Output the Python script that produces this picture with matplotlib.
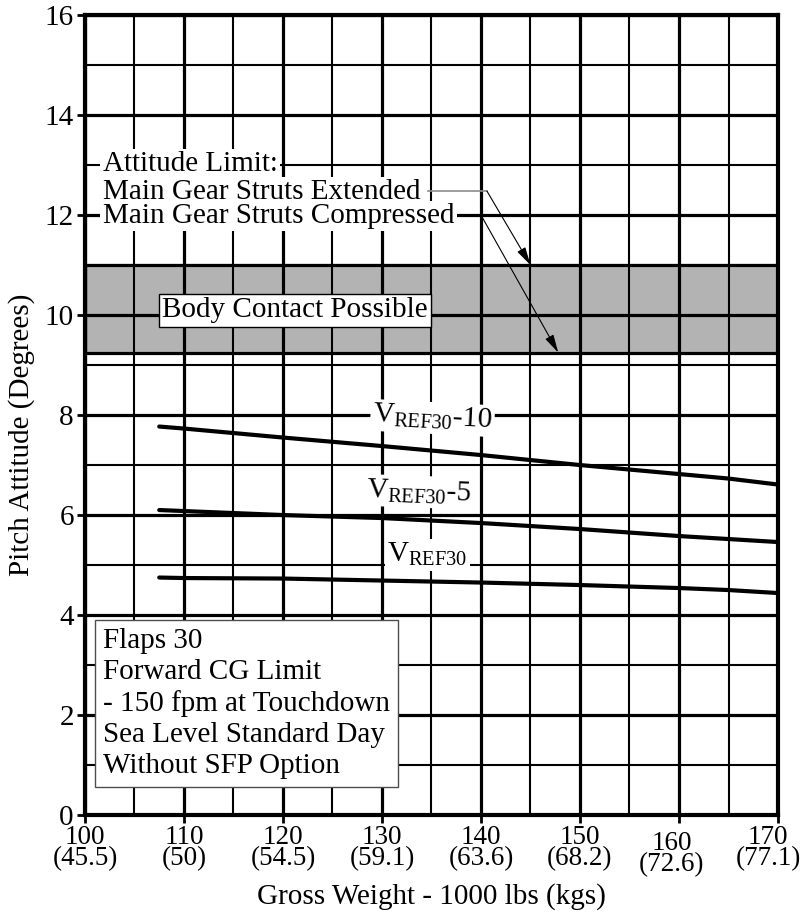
import matplotlib
matplotlib.use("Agg")
import matplotlib.pyplot as plt
from matplotlib.transforms import ScaledTranslation

plt.rcParams["font.family"] = ["Liberation Serif", "DejaVu Serif"]
plt.rcParams["mathtext.fontset"] = "custom"
plt.rcParams["mathtext.rm"] = "Liberation Serif"
plt.rcParams["mathtext.it"] = "Liberation Serif:italic"

# gross weight (1000 lbs) and pitch attitude (deg)
weight = [107.5, 110, 120, 130, 140, 150, 160, 165, 170]
pitch_vref_10 = [7.77, 7.73, 7.55, 7.38, 7.20, 7.00, 6.82, 6.73, 6.61]
pitch_vref_5 = [6.10, 6.08, 6.00, 5.94, 5.84, 5.72, 5.58, 5.52, 5.46]
pitch_vref = [4.75, 4.74, 4.73, 4.69, 4.65, 4.60, 4.54, 4.50, 4.44]

x_ticks = [100, 110, 120, 130, 140, 150, 160, 170]
x_kgs = ["45.5", "50", "54.5", "59.1", "63.6", "68.2", "72.6", "77.1"]
y_ticks = [0, 2, 4, 6, 8, 10, 12, 14, 16]

contact_low, contact_high = 9.25, 11.0

fig = plt.figure(figsize=(8.1, 9.13), dpi=100)
ax = fig.add_axes([0.1049, 0.1073, 0.8556, 0.8762])
fs = 21

ax.set_xlim(100, 170)
ax.set_ylim(0, 16)
ax.set_xticks(x_ticks)
ax.set_xticks(range(105, 170, 10), minor=True)
ax.set_yticks(y_ticks)
ax.set_yticks(range(1, 16, 2), minor=True)
ax.set_xticklabels([f"{w}\n({k})" for w, k in zip(x_ticks, x_kgs)],
                   fontsize=19.5, linespacing=0.82)
ax.set_yticklabels([str(v) for v in y_ticks], fontsize=fs)
ax.tick_params(which="major", direction="out", length=6, width=2, pad=1)
ax.tick_params(which="minor", length=0)
ax.tick_params(axis="y", pad=2)
# the last two labels sit a little off their ticks in the original
for i, (dx, dy) in {6: (-7, -6), 7: (-10, 0)}.items():
    lbl = ax.get_xticklabels()[i]
    lbl.set_transform(lbl.get_transform()
                      + ScaledTranslation(dx / 100, dy / 100, fig.dpi_scale_trans))

ax.grid(which="major", color="black", lw=2.3)
ax.grid(which="minor", color="black", lw=1.5)
ax.set_axisbelow(True)
for sp in ax.spines.values():
    sp.set_linewidth(3)

ax.axhspan(contact_low, contact_high, facecolor="#b3b3b3", edgecolor="black",
           lw=2.3, zorder=0.3)

for series in (pitch_vref_10, pitch_vref_5, pitch_vref):
    ax.plot(weight, series, color="black", lw=3, solid_capstyle="round", zorder=2)

box = dict(boxstyle="square,pad=0.08", facecolor="white", edgecolor="none")
ax.text(129.0, 7.73, r"V$_{\mathrm{REF30}}$-10", fontsize=fs, ha="left",
        va="baseline", rotation=-3, bbox=box, zorder=4)
ax.text(128.4, 6.28, r"V$_{\mathrm{REF30}}$-5", fontsize=fs, ha="left",
        va="baseline", rotation=-2, bbox=box, zorder=4)
ax.text(130.5, 5.06, r"V$_{\mathrm{REF30}}$", fontsize=fs, ha="left",
        va="baseline", bbox=box, zorder=4)

ax.text(121.2, 10.1, "Body Contact Possible", fontsize=fs, ha="center",
        va="center", zorder=4,
        bbox=dict(boxstyle="square,pad=0.12", facecolor="white",
                  edgecolor="black", lw=1))

ax.text(101.8, 12.88, "Attitude Limit:", fontsize=fs, ha="left",
        va="baseline", bbox=box, zorder=4)
ax.text(101.8, 12.32, "Main Gear Struts Extended", fontsize=fs, ha="left",
        va="baseline", bbox=box, zorder=4)
ax.text(101.8, 11.84, "Main Gear Struts Compressed", fontsize=fs, ha="left",
        va="baseline", bbox=box, zorder=4)

# leader lines to the attitude limits
ax.plot([134.6, 140.6], [12.48, 12.48], color="0.55", lw=1.2, zorder=3)
arrow = dict(arrowstyle="-|>,head_length=1.1,head_width=0.28", color="black",
             lw=0.8, shrinkA=0, shrinkB=0)
ax.annotate("", xy=(145.0, contact_high), xytext=(140.6, 12.48),
            arrowprops=arrow, zorder=3)
ax.annotate("", xy=(147.8, contact_low), xytext=(140.0, 12.0),
            arrowprops=arrow, zorder=3)

ax.text(101.8, 3.74, "Flaps 30\nForward CG Limit\n- 150 fpm at Touchdown\n"
        "Sea Level Standard Day\nWithout SFP Option", fontsize=fs, ha="left",
        va="top", linespacing=1.25, zorder=4,
        bbox=dict(boxstyle="square,pad=0.27", facecolor="white",
                  edgecolor="0.3", lw=1))

ax.set_ylabel("Pitch Attitude (Degrees)", fontsize=fs)
ax.yaxis.set_label_coords(-0.072, 0.475)
ax.set_xlabel("Gross Weight - 1000 lbs (kgs)", fontsize=fs)
ax.xaxis.set_label_coords(0.5, -0.085)

fig.savefig("out.png", dpi=100)
